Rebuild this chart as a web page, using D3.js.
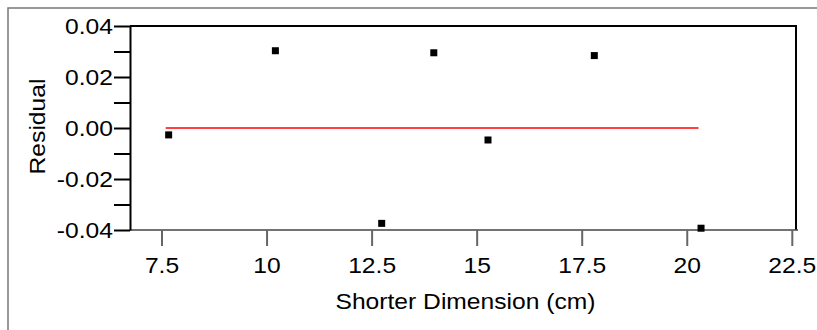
<!DOCTYPE html>
<html>
<head>
<meta charset="utf-8">
<script src="https://cdn.jsdelivr.net/npm/d3@7"></script>
<style>
  body { margin: 0; background: #fff; }
  text { font-family: "Liberation Sans", Arial, sans-serif; fill: #000; }
</style>
</head>
<body>
<div id="chart"></div>
<script>
// residuals
const dimension = [7.67, 10.21, 12.74, 13.98, 15.27, 17.80, 20.34]
const residual = [-0.0027, 0.0303, -0.0374, 0.0295, -0.0047, 0.0284, -0.0393]
const fitX = [7.6, 20.28]
const fitY = [0, 0]
const xTicks = [7.5, 10, 12.5, 15, 17.5, 20, 22.5]
const xTickLabels = ['7.5', '10', '12.5', '15', '17.5', '20', '22.5']
const yTicks = [0.04, 0.02, 0, -0.02, -0.04]
const yTickLabels = ['0.04', '0.02', '0.00', '-0.02', '-0.04']
const yMinorTicks = [0.03, 0.01, -0.01, -0.03]

const W = 817, H = 330
const margin = { top: 26, right: 21, bottom: 100, left: 130 }
const width = W - margin.left - margin.right
const height = H - margin.top - margin.bottom
const SX = 1.12 // glyphs in the picture are a bit wider than Liberation Sans

const root = d3.select('#chart').append('svg').attr('width', W).attr('height', H)

// outer frame (only top and left edges fall inside the picture)
root.append('rect')
  .attr('x', 8).attr('y', 8).attr('width', 900).attr('height', 500)
  .attr('fill', 'none').attr('stroke', '#777').attr('stroke-width', 1.5)

const svg = root.append('g').attr('transform', `translate(${margin.left},${margin.top})`)

const x = d3.scaleLinear().domain([6.75, 22.6]).range([0, width])
const y = d3.scaleLinear().domain([-0.04, 0.04]).range([height, 0])

// top and right border of the plot
svg.append('path')
  .attr('d', `M0,0H${width}V${height}`)
  .attr('fill', 'none').attr('stroke', '#000').attr('stroke-width', 2)

// x axis
const xAxis = d3.axisBottom(x)
  .tickValues(xTicks)
  .tickFormat((d, i) => xTickLabels[i])
  .tickSize(16).tickPadding(11).tickSizeOuter(0)
const gx = svg.append('g').attr('transform', `translate(0,${height})`).call(xAxis)
gx.select('.domain').attr('stroke', '#444').attr('stroke-width', 1.5)
  .attr('d', `M0,0H${width + 2}`)
gx.selectAll('.tick line').attr('stroke', '#666').attr('stroke-width', 2)
gx.selectAll('.tick text')
  .attr('font-size', 22).attr('fill', '#000')
  .attr('transform', `scale(${SX},1)`)

// y axis, major and minor ticks
const yAxis = d3.axisLeft(y)
  .tickValues(yTicks)
  .tickFormat((d, i) => yTickLabels[i])
  .tickSize(16).tickPadding(1).tickSizeOuter(0)
const gy = svg.append('g').call(yAxis)
gy.select('.domain').attr('stroke', '#000').attr('stroke-width', 2)
gy.selectAll('.tick line').attr('stroke', '#000').attr('stroke-width', 2)
gy.selectAll('.tick text')
  .attr('font-size', 22).attr('fill', '#000')
  .attr('x', -17 / SX)
  .attr('transform', `scale(${SX},1)`)

const gyMinor = svg.append('g').call(d3.axisLeft(y).tickValues(yMinorTicks).tickFormat('').tickSize(16).tickSizeOuter(0))
gyMinor.select('.domain').remove()
gyMinor.selectAll('.tick line').attr('stroke', '#000').attr('stroke-width', 2)

// zero line of the fit
svg.append('path')
  .datum(fitX.map((d, i) => [d, fitY[i]]))
  .attr('fill', 'none').attr('stroke', '#f00').attr('stroke-width', 1.5)
  .attr('d', d3.line().x(d => x(d[0])).y(d => y(d[1])))

// residual points
const size = 7
svg.selectAll('.pt')
  .data(dimension.map((d, i) => [d, residual[i]]))
  .enter()
  .append('rect')
  .attr('class', 'pt')
  .attr('x', d => x(d[0]) - size / 2)
  .attr('y', d => y(d[1]) - size / 2)
  .attr('width', size).attr('height', size)
  .attr('fill', '#000')

// axis titles
root.append('text')
  .attr('transform', `translate(465.5,309) scale(${SX},1)`)
  .attr('text-anchor', 'middle').attr('font-size', 22)
  .text('Shorter Dimension (cm)')

root.append('text')
  .attr('transform', `translate(44.5,126.5) rotate(-90) scale(${SX},1)`)
  .attr('text-anchor', 'middle').attr('font-size', 22)
  .text('Residual')
</script>
</body>
</html>
